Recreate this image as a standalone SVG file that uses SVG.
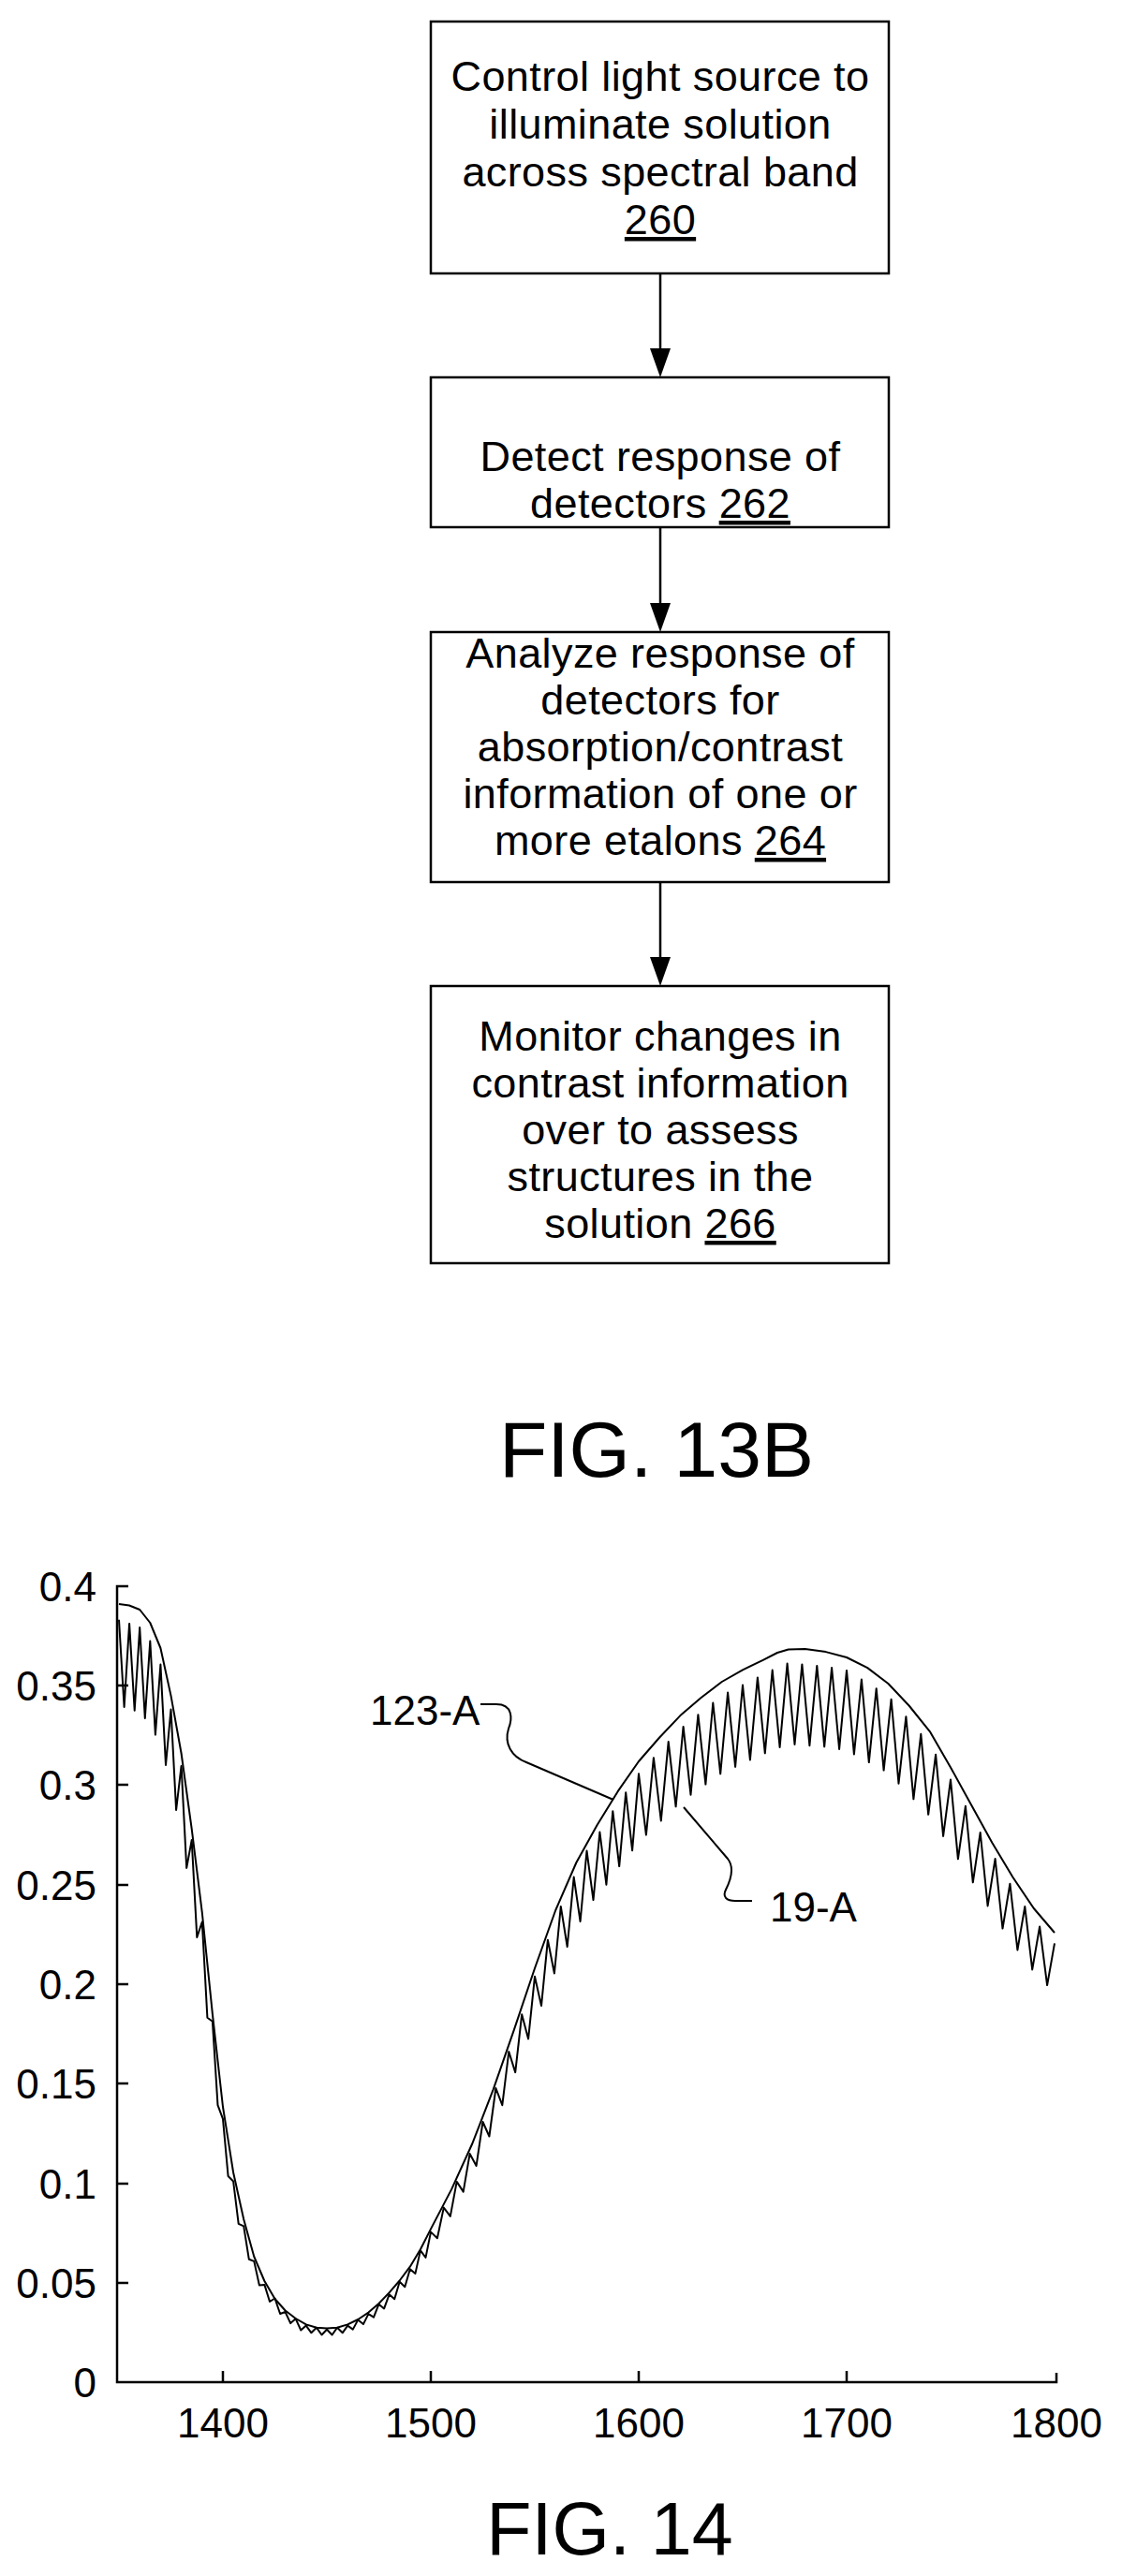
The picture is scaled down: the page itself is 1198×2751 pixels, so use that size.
<svg xmlns="http://www.w3.org/2000/svg" width="1198" height="2751" viewBox="0 0 1198 2751">
<style>
.box{fill:#fff;stroke:#000;stroke-width:2.5}
.t{font-family:"Liberation Sans",Arial,sans-serif;font-size:45px;fill:#000;text-anchor:middle;letter-spacing:0.4px}
.u{text-decoration:underline}
.conn{stroke:#000;stroke-width:2.5;fill:none}
.ax{stroke:#000;stroke-width:2.5;fill:none}
.crv{stroke:#000;stroke-width:2;fill:none;stroke-linejoin:round}
.lbl{font-family:"Liberation Sans",Arial,sans-serif;font-size:44px;fill:#000}
.fig{font-family:"Liberation Sans",Arial,sans-serif;fill:#000;text-anchor:middle}
</style>
<rect width="1198" height="2751" fill="#fff"/>

<g id="n260">
<rect class="box" x="460" y="23" width="489" height="269"/>
<text class="t"><tspan x="705" y="97">Control light source to</tspan><tspan x="705" y="148">illuminate solution</tspan><tspan x="705" y="199">across spectral band</tspan><tspan x="705" y="250" class="u">260</tspan></text>
</g>
<g id="n262">
<rect class="box" x="460" y="403" width="489" height="160"/>
<text class="t"><tspan x="705" y="503">Detect response of</tspan><tspan x="705" y="553">detectors <tspan class="u">262</tspan></tspan></text>
</g>
<g id="n264">
<rect class="box" x="460" y="675" width="489" height="267"/>
<text class="t"><tspan x="705" y="713">Analyze response of</tspan><tspan x="705" y="763">detectors for</tspan><tspan x="705" y="813">absorption/contrast</tspan><tspan x="705" y="863">information of one or</tspan><tspan x="705" y="913">more etalons <tspan class="u">264</tspan></tspan></text>
</g>
<g id="n266">
<rect class="box" x="460" y="1053" width="489" height="296"/>
<text class="t"><tspan x="705" y="1122">Monitor changes in</tspan><tspan x="705" y="1172">contrast information</tspan><tspan x="705" y="1222">over to assess</tspan><tspan x="705" y="1272">structures in the</tspan><tspan x="705" y="1322">solution <tspan class="u">266</tspan></tspan></text>
</g>
<g id="connectors">
<path class="conn" d="M705,292 L705,372"/><path d="M694,372 L716,372 L705,403 Z"/>
<path class="conn" d="M705,563 L705,644"/><path d="M694,644 L716,644 L705,675 Z"/>
<path class="conn" d="M705,942 L705,1022"/><path d="M694,1022 L716,1022 L705,1053 Z"/>
</g>
<text class="fig" x="701" y="1577" font-size="84">FIG. 13B</text>

<g id="chart">
<path class="ax" d="M137,1694 L125,1694 L125,2544 L1128,2544 L1128,2534"/>
<g class="ax">
<path d="M125,1800 h12 M125,1906 h12 M125,2013 h12 M125,2119 h12 M125,2225 h12 M125,2332 h12 M125,2438 h12"/>
<path d="M238,2544 v-12 M460,2544 v-12 M682,2544 v-12 M904,2544 v-12"/>
</g>
<g class="lbl" text-anchor="end">
<text x="103" y="1710">0.4</text>
<text x="103" y="1816">0.35</text>
<text x="103" y="1922">0.3</text>
<text x="103" y="2029">0.25</text>
<text x="103" y="2135">0.2</text>
<text x="103" y="2241">0.15</text>
<text x="103" y="2348">0.1</text>
<text x="103" y="2454">0.05</text>
<text x="103" y="2560">0</text>
</g>
<g class="lbl" text-anchor="middle">
<text x="238" y="2603">1400</text>
<text x="460" y="2603">1500</text>
<text x="682" y="2603">1600</text>
<text x="904" y="2603">1700</text>
<text x="1128" y="2603">1800</text>
</g>
<path id="c123A" class="crv" d="M127,1713.1 L138,1714.5 L149.2,1719 L160.3,1733 L171.4,1760 L182.5,1810.9 L193.6,1872.5 L204.7,1953.2 L215.8,2042.5 L226.9,2150.9 L238,2250 L249.1,2320 L260.2,2370 L271.3,2410 L282.4,2436 L293.5,2455 L304.6,2467.5 L315.7,2476 L326.8,2482.4 L338,2485.8 L349,2486.6 L360,2485.8 L371.2,2482.4 L382.3,2477 L393.4,2469.6 L404.5,2460 L415.6,2448.4 L426.7,2435.5 L437.8,2420.7 L449,2402 L460,2380.4 L482.2,2337.9 L504.4,2289 L526.6,2231.6 L548.8,2167.9 L571,2102 L593.2,2040 L615.4,1989 L637.6,1949 L659.8,1912.9 L682,1881 L704.2,1855.5 L726.4,1832.1 L748.6,1813 L770.8,1796 L793,1783.3 L815.2,1772.6 L830,1765 L841.8,1761.5 L859.6,1761 L881.8,1764.1 L904,1770 L926.2,1781.1 L948.4,1798 L970.6,1821.5 L992.8,1849.1 L1015,1887.4 L1037.2,1927.7 L1059.4,1968.1 L1081.6,2005 L1103.8,2038 L1126,2064"/>
<path id="c19A" class="crv" stroke-width="2.2" stroke-linejoin="miter" d="M127,1729.7 L132.6,1823 L138.1,1733.9 L143.7,1826.7 L149.2,1738.1 L154.8,1835 L160.3,1752.6 L165.9,1852.6 L171.4,1777.6 L177,1884.9 L182.5,1825.5 L188.1,1933 L193.6,1885.9 L199.2,1994.9 L204.7,1965.1 L210.3,2068.9 L215.8,2052.5 L221.4,2154.8 L226.9,2158.7 L232.5,2248.2 L238,2262.9 L243.6,2324 L249.1,2329.5 L254.7,2374.8 L260.2,2377.4 L265.8,2412.7 L271.3,2414.9 L276.9,2440.5 L282.4,2439.9 L288,2458 L293.5,2454.5 L299.1,2471 L304.6,2469 L310.2,2481.1 L315.7,2476.3 L321.3,2488.5 L326.8,2483.6 L332.4,2491.3 L337.9,2485.7 L343.5,2493.5 L349,2487.8 L354.6,2493.5 L360.1,2485.7 L365.7,2491.3 L371.2,2483.6 L376.8,2487.6 L382.3,2477.4 L387.9,2482.1 L393.4,2471.1 L399,2474.7 L404.5,2460.7 L410.1,2465.4 L415.6,2450.3 L421.2,2455.3 L426.7,2436.8 L432.3,2442.3 L437.8,2423.2 L443.4,2428.1 L448.9,2403.4 L454.5,2410.9 L460,2383.6 L466.9,2390.2 L473.8,2357.6 L480.8,2366.9 L487.7,2329.9 L494.7,2340.6 L501.6,2300.1 L508.6,2312.9 L515.5,2266 L522.4,2281.5 L529.4,2230 L536.3,2248.2 L543.3,2191 L550.2,2213.1 L557.2,2151.2 L564.1,2177.4 L571,2110.8 L578,2142.1 L584.9,2071.7 L591.9,2107.5 L598.8,2035.9 L605.7,2079 L612.7,2004.6 L619.6,2052 L626.5,1976.5 L633.5,2029.1 L640.4,1956.5 L647.4,2012.7 L654.3,1934.2 L661.2,1993.1 L668.2,1914.3 L675.1,1976.2 L682,1894.3 L689.9,1959.6 L697.9,1877.2 L705.8,1944.4 L713.7,1860.1 L721.6,1929.3 L729.6,1843.9 L737.5,1916.7 L745.4,1831.2 L753.4,1905.6 L761.3,1818.5 L769.2,1894.3 L777.1,1807.6 L785.1,1886.8 L793,1799.5 L800.9,1879.4 L808.9,1791.4 L816.8,1872.3 L824.7,1783.5 L832.6,1865.9 L840.6,1776.6 L848.5,1862.9 L856.4,1777.4 L864.4,1864.2 L872.3,1778.9 L880.2,1865.3 L888.1,1781 L896.1,1867.9 L904,1783.9 L911.9,1873.5 L919.9,1793.5 L927.8,1882.1 L935.7,1803.2 L943.6,1890.6 L951.6,1814.7 L959.5,1904.7 L967.4,1833.2 L975.4,1921.3 L983.3,1851.8 L991.2,1937.8 L999.1,1873.7 L1007.1,1960.9 L1015,1900.5 L1022.9,1985.3 L1030.9,1928.8 L1038.8,2010.3 L1046.7,1957 L1054.6,2035.4 L1062.6,1985.1 L1070.5,2059.6 L1078.4,2011.7 L1086.4,2082.5 L1094.3,2036.1 L1102.2,2103.4 L1110.1,2057.5 L1118.1,2120.1 L1126,2075.4"/>
<path class="crv" d="M513,1820 L530,1820 C548,1820 547,1836 543,1846 C538,1862 546,1876 562,1882 L655,1922"/>
<path class="crv" d="M730,1930 L777,1985 C785,1995 779,2010 775,2018 C771,2026 776,2030 785,2030 L803,2030"/>
<text class="lbl" x="395" y="1842" font-size="37">123-A</text>
<text class="lbl" x="822" y="2052" font-size="37">19-A</text>
</g>
<text class="fig" x="651" y="2728" font-size="79">FIG. 14</text>
</svg>
